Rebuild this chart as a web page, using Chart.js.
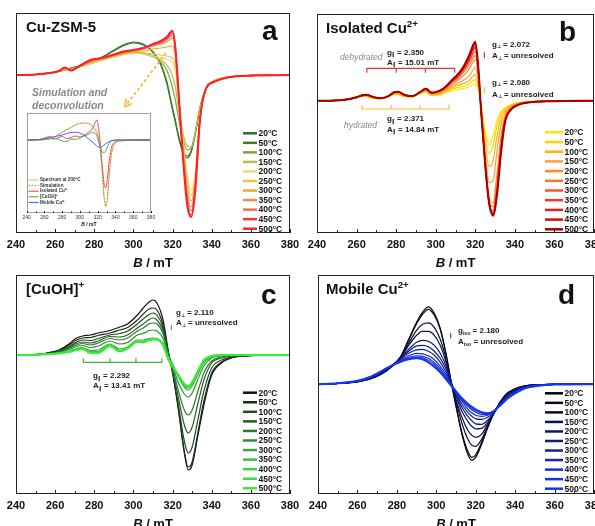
<!DOCTYPE html>
<html>
<head>
<meta charset="utf-8">
<script src="https://cdn.jsdelivr.net/npm/chart.js@4.4.0/dist/chart.umd.min.js"></script>
<style>
  body { margin: 0; width: 595px; height: 526px; overflow: hidden; background: #fff; position: relative; }
  canvas { position: absolute; }
</style>
</head>
<body>
<canvas id="pa"></canvas>
<canvas id="pb"></canvas>
<canvas id="pc"></canvas>
<canvas id="pd"></canvas>
<canvas id="inset"></canvas>
<script>
// ---- data ----
const temps = ['20°C', '50°C', '100°C', '150°C', '200°C', '250°C', '300°C', '350°C', '400°C', '450°C', '500°C'];
const bTicks = [240, 260, 280, 300, 320, 340, 360, 380];

// a: Cu-ZSM-5
const fieldA = [240, 250, 257, 262, 265, 268, 272, 278, 284, 290, 296, 300, 305, 310, 314, 317, 319, 320, 321.5, 323, 325, 327.5, 329.5, 331.5, 334, 337, 341, 347, 355, 380];
const specA = [
  [0, 0.5, 2, 4, 5, 7, 9, 13, 18, 25, 31, 33, 31, 23, 10, -8, -26, -35, -48, -62, -76, -83, -77, -60, -33, -14, -6, -2.5, -1, 0],
  [0, 0.5, 2, 4, 5, 6.5, 8.5, 12.5, 17.5, 24, 30, 32, 30, 23, 11, -6, -24, -33, -46, -60, -74, -81, -76, -59, -33, -14, -6, -2.5, -1, 0],
  [0, 0.5, 2, 4, 5, 6, 8, 12, 16, 19, 22, 23, 22, 19, 13, 5, -6, -13, -26, -43, -62, -75, -73, -59, -33, -14, -6, -2.5, -1, 0],
  [0, 0.5, 2, 4, 5, 6, 8, 11, 15, 18, 21, 22, 21, 18, 15, 10, 4, -1, -13, -33, -56, -71, -72, -58, -32, -14, -6, -2.5, -1, 0],
  [0, 0.5, 2, 4, 5.5, 5.5, 7.5, 11, 15, 18, 21, 22, 21, 19, 17, 16, 14, 12, 4, -22, -58, -100, -115, -99, -40, -15, -6, -2.5, -1, 0],
  [0, 0.5, 2, 4, 6, 5.5, 8, 12, 15.5, 18.5, 21, 22, 22, 21, 20, 19, 18, 17, 8, -22, -62, -106, -120, -102, -41, -15, -6.5, -2.5, -1, 0],
  [0, 0.5, 2, 4, 6.5, 5, 8, 13, 16, 19, 22, 23, 24, 26, 27, 28, 29, 29, 17, -20, -66, -112, -126, -106, -42, -14, -7, -3, -1, 0],
  [0, 0.5, 2, 4, 7, 5, 8, 13.5, 17, 19.5, 22.5, 24, 26, 29, 31, 33, 36, 37, 22, -18, -70, -118, -132, -110, -43, -14, -7, -3, -1, 0],
  [0, 0.5, 2, 4, 7, 5, 8, 14, 17, 20, 23, 24.5, 26.5, 30, 32, 35, 39, 40, 24, -17, -72, -122, -136, -113, -44, -14, -7, -3, -1, 0],
  [0, 0.5, 2, 4, 7, 4.5, 8.5, 14.5, 17, 20, 23.5, 25, 27, 30.5, 33, 36.5, 41, 42, 25, -16, -74, -127, -140, -116, -45, -14, -7, -3, -1, 0],
  [0, 0.5, 2, 4, 7.5, 4.5, 8.5, 15, 17, 20.5, 24, 25, 27, 31, 34, 38, 43, 44, 26, -15, -75, -130, -142, -118, -45, -14, -7, -3, -1, 0]
];

// a inset: simulation and deconvolution of the 200°C spectrum
const fieldI = [240, 255, 262, 266, 270, 275, 280, 285, 290, 295, 300, 305, 310, 314, 317, 319, 321, 323, 325, 327, 329, 331, 333, 336, 340, 345, 380];
const inSpectrum = [0, 0.5, 2.5, 3.5, 3, 5, 8, 10, 12.5, 15, 16.5, 17, 16.5, 14, 11, 8, 2, -10, -30, -55, -67, -58, -35, -12, -3, -1, 0];
const inSimulation = [0, 0.4, 2.2, 3.3, 3.2, 5.2, 7.8, 10.2, 12.8, 15.2, 16.8, 17, 16.2, 13.5, 10.5, 7.5, 1.5, -11, -31, -56, -66, -56, -33, -11, -3, -0.8, 0];
const inIsolated = [0, 0.5, 2.5, 3, 1, 2, 3.5, 1.5, 2.5, 4, 3, 5, 8, 11, 17, 20, 12, -5, -25, -43, -48, -38, -20, -6, -2, -0.5, 0];
const inCuOH = [0, 0, 0.5, 1, 1.5, 1, -1, -1.5, 1, 0.5, 2, 4, 6, 7.5, 7, 4, -2, -8, -12, -13, -11, -7, -3, -0.5, 0, 0, 0];
const inMobile = [0, 0.5, 1.5, 2, 3, 4, 5, 6.5, 7.5, 7.7, 7, 4.5, 1, -2, -4.5, -6, -7.3, -7.5, -6.5, -5, -3.5, -2.5, -1.5, -0.7, -0.2, 0, 0];
const inLabels = ['Spectrum at 200°C', 'Simulation', 'Isolated Cu²⁺', '[CuOH]⁺', 'Mobile Cu²⁺'];

// b: isolated Cu2+
const fieldB = [240, 250, 256, 260, 263, 265, 268, 272, 276, 279, 281, 284, 288, 292, 295, 298, 302, 305, 308, 311, 314, 317, 319, 320, 321.5, 323, 325, 327, 329, 331, 333, 335, 338, 342, 348, 360, 380];
const specB = [
  [0, 0.3, 1.5, 3, 4.5, 4, 2.5, 2, 4, 6, 6, 4, 4, 7, 8.5, 5, 6, 8, 10, 11, 12, 14, 16, 16.5, 11, -5, -30, -44, -35, -19, -11, -7, -4, -2, -1, -0.3, 0],
  [0, 0.3, 1.5, 3, 4.5, 4.5, 2.5, 2, 4, 6.5, 6.5, 4.5, 4, 7.5, 9, 5.5, 6.5, 9, 11.5, 13, 14.5, 17, 20, 21, 13, -6, -36, -53, -45, -25, -13, -8, -4.5, -2, -1, -0.3, 0],
  [0, 0.3, 1.5, 3, 5, 4.5, 3, 2, 4, 7, 7, 4.5, 4, 7.5, 9.5, 6, 7, 10, 13, 15, 17, 20, 25, 26, 16, -7, -43, -66, -60, -35, -17, -10, -5, -2.5, -1, -0.3, 0],
  [0, 0.3, 1.5, 3, 5, 5, 3, 2, 4, 7.5, 7.5, 5, 4, 8, 10, 6.5, 7.5, 11, 14.5, 17, 20.5, 25, 31, 33, 21, -8, -50, -82, -80, -50, -24, -12, -6, -3, -1, -0.3, 0],
  [0, 0.3, 1.5, 3.5, 5, 5.5, 3.5, 2.5, 4, 8, 8, 5.5, 4.5, 8, 11, 7, 8.5, 12, 16, 20, 25, 32, 39, 41, 25, -10, -58, -97, -102, -72, -36, -16, -7, -3, -1, -0.3, 0],
  [0, 0.3, 1.5, 3.5, 5.5, 5.5, 3.5, 2.5, 4.5, 8, 8.5, 5.5, 4.5, 8, 11, 7.5, 9, 12.5, 17.5, 22, 28, 36, 43, 45, 28, -11, -60, -100, -106, -80, -40, -17, -8, -3.5, -1.5, -0.4, 0],
  [0, 0.3, 1.5, 3.5, 5.5, 6, 4, 2.5, 4.5, 8.5, 8.5, 6, 4.5, 8.5, 11.5, 7.5, 9.5, 13, 18.5, 23, 30, 39, 47, 49, 30, -12, -62, -102, -110, -86, -45, -19, -8, -3.5, -1.5, -0.4, 0],
  [0, 0.3, 1.5, 3.5, 5.5, 6, 4, 2.5, 4.5, 8.5, 9, 6, 4.5, 8.5, 12, 8, 9.5, 13.5, 19, 24, 31, 41, 50, 52, 31, -12, -63, -102, -112, -90, -48, -20, -8.5, -4, -1.5, -0.5, 0],
  [0, 0.3, 1.5, 3.5, 5.5, 6, 4, 2.5, 4.5, 8.5, 9, 6, 4.5, 8.5, 12, 8, 10, 13.5, 19.5, 25, 32, 43, 52, 54, 32, -12, -64, -103, -113, -92, -50, -21, -9, -4, -1.5, -0.5, 0],
  [0, 0.3, 1.5, 3.5, 5.5, 6, 4, 2.5, 4.5, 8.5, 9, 6, 4.5, 8.5, 12, 8, 10, 14, 20, 25.5, 33, 44.5, 54, 57, 33, -12, -64, -103, -114, -93, -51, -21, -9, -4, -1.5, -0.5, 0],
  [0, 0.3, 1.5, 3.5, 5.5, 6, 4, 2.5, 4.5, 8.5, 9, 6, 4.5, 8.5, 12, 8, 10, 14, 20, 26, 34, 46, 56, 59, 34, -12, -64, -103, -115, -94, -52, -22, -9, -4, -1.5, -0.5, 0]
];
// hyperfine stick positions (mT) and their levels
const dehydLines = [265.2, 280, 294.8, 309.6];
const hydLines = [262.7, 277.5, 292.1, 306.8];
const perpDehyd = [324.6, 42.4, 49];
const perpHyd = [324.6, 7.4, 13.4];

// c: [CuOH]+
const fieldC = [240, 250, 256, 262, 267, 271, 274, 278, 282, 288, 293, 297, 302, 305, 308, 310, 312, 315, 318, 320, 323, 326, 328, 330, 333, 336, 340, 345, 352, 362, 380];
const specC = [
  [0, 0.5, 2, 5, 11, 17, 19, 20, 22, 24.5, 28, 31, 40, 47, 53, 55, 52, 36, 2, -18, -55, -98, -115, -110, -80, -50, -20, -8, -2, -0.5, 0],
  [0, 0.5, 2, 4.5, 10, 15, 17, 17.5, 19.5, 22, 25, 27.5, 35, 41, 46, 47, 45, 31, 1, -17, -54, -96, -112, -107, -77, -46, -18, -7, -2, -0.5, 0],
  [0, 0.4, 1.5, 4, 8.5, 13, 15, 14.5, 16.5, 20, 21.5, 24, 31, 36, 40.5, 42, 40, 28, 0, -16, -50, -86, -98, -92, -64, -36, -13, -5, -1.5, -0.3, 0],
  [0, 0.4, 1.5, 3.5, 7.5, 11.5, 13, 12, 14, 18.5, 18, 20, 27, 31, 35.5, 37, 35, 25, 0, -15, -43, -70, -78, -72, -48, -25, -8, -3, -1, -0.3, 0],
  [0, 0.3, 1.2, 3, 6.5, 10, 11.5, 10, 12, 16.5, 15, 17, 24, 27, 31, 32, 31, 22, 0, -13, -36, -55, -60, -55, -36, -18, -6, -2, -0.5, 0, 0],
  [0, 0.3, 1, 2.5, 5.5, 8.5, 9.5, 7.5, 9, 14, 11, 12.5, 20, 21.5, 24.5, 25, 24, 17, -1, -11, -28, -39, -42, -38, -24, -11, -3, -1, 0, 0, 0],
  [0, 0.3, 1, 2, 4, 6.5, 7.5, 4.5, 5, 11, 6, 8, 15, 15, 16.5, 17, 16.5, 12, -2, -9, -22, -32, -35, -31, -19, -8, -2, -0.5, 0, 0, 0],
  [0, 0.3, 1, 2, 3.5, 6, 6.5, 3.5, 3.5, 10, 4.5, 7, 14, 13.5, 15, 15.5, 16, 11.5, -3, -10, -21, -30, -33, -29, -17, -7, -1.5, -0.3, 0, 0, 0],
  [0, 0.3, 1, 1.8, 3, 5.5, 6, 3, 3, 9.5, 4, 6.5, 13.5, 12.5, 15, 15.5, 16, 11, -4, -11, -21, -29, -32, -28, -16, -6, -1.5, -0.3, 0, 0, 0],
  [0, 0.2, 0.8, 1.6, 3, 5, 6, 2.5, 2.5, 9, 3.5, 6.5, 13.5, 12.5, 15, 15.5, 15.5, 10.5, -4.5, -11.5, -20, -29, -31.5, -27.5, -16, -5.5, -1, 0, 0, 0, 0],
  [0, 0.2, 0.8, 1.5, 3, 5, 6, 2, 2, 9, 3.5, 6.5, 13.3, 12.4, 15, 15.5, 15.5, 10, -5, -12, -20, -29, -31, -27, -16, -5, -1, 0, 0, 0, 0]
];
const cuohLines = [274.4, 288, 301.3, 314.6];
const perpCuOH = [319.4, 25, 30];

// d: mobile Cu2+
const fieldD = [240, 250, 260, 266, 272, 277, 282, 286, 290, 293, 296, 299, 302, 305, 307, 310, 313, 316, 318, 320, 323, 326, 329, 332, 336, 340, 345, 350, 360, 380];
const specD = [
  [0, 0.8, 2.5, 5, 10, 17, 28, 45, 62, 72, 77.5, 71, 56, 30, 8, -22, -50, -70, -76, -73, -60, -44, -30, -19, -9, -4.5, -1.5, -0.5, 0, 0],
  [0, 0.8, 2.5, 5, 10, 17, 27.5, 44, 60.5, 70, 75, 69, 55, 29.5, 8, -21, -48, -67, -73, -70.5, -58, -43, -29.5, -19, -9, -4.5, -1.5, -0.5, 0, 0],
  [0, 0.8, 2.6, 5.2, 10.5, 17.5, 27, 41, 54, 60, 61.5, 57, 45, 25, 7, -17, -39, -55, -61, -62, -55, -42, -30, -19.5, -9.5, -5, -1.7, -0.5, 0, 0],
  [0, 0.9, 2.7, 5.5, 11, 18, 27, 39, 49, 53, 53, 49, 39, 22, 6, -15, -33, -46, -51, -53, -50, -40, -29.5, -20, -10, -5.5, -2, -0.6, 0, 0],
  [0, 0.9, 2.8, 5.8, 11.5, 18, 26.5, 35, 42, 44, 43, 39, 31, 18, 5, -12, -27, -37, -42, -44.5, -44, -38, -29.5, -20.5, -11, -6, -2.3, -0.7, 0, 0],
  [0, 0.9, 3, 6, 12, 18, 25.5, 33, 38.5, 39, 37.5, 33, 26, 15, 4, -10, -23, -32, -36.5, -39.5, -40, -36, -29, -21, -11.5, -6.5, -2.5, -0.8, 0, 0],
  [0, 1, 3, 6.2, 12, 18, 24.5, 31, 34.5, 35, 33, 29, 22, 12, 3, -9, -20, -28, -32, -34.5, -35, -33, -28, -21, -12.5, -7, -2.8, -1, 0, 0],
  [0, 1, 3.2, 6.5, 12.5, 18, 23.5, 28.5, 31, 30.5, 28.5, 24.5, 18, 9.5, 2, -8, -17, -25, -28.5, -31, -32, -31, -27.5, -21.5, -13, -7.5, -3, -1.2, 0, 0],
  [0, 1, 3.3, 6.7, 12.7, 18, 23, 27, 28.5, 28, 26, 21.5, 15.5, 7.5, 1, -7.5, -15.5, -22, -25.5, -28, -30, -30, -27, -21.5, -13.5, -8, -3.3, -1.4, -0.1, 0],
  [0, 1, 3.4, 6.9, 12.9, 18.2, 22.7, 26, 27, 26.5, 24, 19.5, 13.5, 6, 0.5, -7, -14.5, -20.5, -24, -26.5, -28.5, -29, -27, -21.8, -14, -8.5, -3.6, -1.6, -0.2, 0],
  [0, 1, 3.5, 7, 13, 18.5, 22.5, 25, 26, 25, 22, 17.5, 12, 5, 0, -7, -14, -19.5, -22.5, -25, -28, -29, -27, -22, -14.5, -9, -4, -2, -0.3, 0]
];
const isoMobile = [307.3, 46, 51];

// ---- styles ----
const FONT = 'Arial, "Liberation Sans", sans-serif';
const colA = ['#2f6b37', '#457a2c', '#83a235', '#bcbc48', '#efd873', '#efc23c', '#f5a82a', '#f28e48', '#f26c52', '#f03a3a', '#ff1f2f'];
const colB = ['#ffe600', '#ffd200', '#ffb400', '#ffa040', '#ff8a30', '#ff7428', '#ff5526', '#f53822', '#e41c1c', '#cc0e0e', '#a80000'];
const colC = ['#111111', '#1c2c1c', '#204a22', '#245e26', '#2a7a2c', '#2f8f31', '#36a838', '#3bbf3d', '#3fd042', '#3ce03c', '#33f030'];
const colD = ['#000000', '#0a0a1c', '#0c0c38', '#0e1050', '#101668', '#121c80', '#14229a', '#1628b4', '#1830cc', '#1634e4', '#1234ff'];

function rich(ctx, x, y, parts, size, style) {
  let cx = x;
  for (const [t, k] of parts) {
    const s = k ? size * 0.65 : size;
    const dy = k === 'sup' ? -size * 0.42 : k === 'sub' ? size * 0.22 : 0;
    ctx.font = `${style} ${s}px ${FONT}`;
    ctx.fillText(t, cx, y + dy);
    cx += ctx.measureText(t).width;
  }
}

function legend(ctx, chart, x, y, dy, len) {
  ctx.font = `bold 8.5px ${FONT}`;
  ctx.textBaseline = 'middle';
  temps.forEach((t, i) => {
    const yy = y + i * dy;
    ctx.strokeStyle = chart.data.datasets[i].borderColor;
    ctx.lineWidth = 2.5;
    ctx.beginPath(); ctx.moveTo(x, yy); ctx.lineTo(x + len, yy); ctx.stroke();
    ctx.fillStyle = '#111';
    ctx.fillText(t, x + len + 1.5, yy + 0.5);
  });
  ctx.textBaseline = 'alphabetic';
}

// comb of hyperfine sticks: horizontal bar at `bar`, ticks reaching to `tip`
function comb(lines, bar, tip) {
  const pts = [[lines[0], tip], [lines[0], bar]];
  for (let i = 1; i < lines.length; i++) {
    pts.push([lines[i], bar], [lines[i], tip], [lines[i], bar]);
  }
  return pts;
}

const axisDeco = {
  id: 'axisDeco',
  afterDatasetsDraw(c, args, o) {
    const { ctx, chartArea: a } = c;
    const x = c.scales.x;
    ctx.save();
    ctx.strokeStyle = o.color;
    ctx.lineWidth = 1;
    ctx.strokeRect(Math.round(a.left) + 0.5, Math.round(a.top) + 0.5,
      Math.round(a.right - a.left) - 1, Math.round(a.bottom - a.top) - 1);
    ctx.strokeStyle = '#222';
    ctx.beginPath();
    for (let v = 240; v <= 380; v += 10) {
      const px = Math.round(x.getPixelForValue(v)) + 0.5;
      ctx.moveTo(px, a.bottom);
      ctx.lineTo(px, a.bottom - (v % 20 ? o.minor : o.major));
    }
    ctx.stroke();
    // axis title: italic B / mT
    ctx.fillStyle = '#111';
    ctx.font = `italic bold ${o.size}px ${FONT}`;
    const w1 = ctx.measureText('B').width;
    ctx.font = `bold ${o.size}px ${FONT}`;
    const w2 = ctx.measureText(' / mT').width;
    const x0 = (a.left + a.right) / 2 - (w1 + w2) / 2;
    const y0 = a.bottom + o.dy;
    ctx.font = `italic bold ${o.size}px ${FONT}`;
    ctx.fillText('B', x0, y0);
    ctx.font = `bold ${o.size}px ${FONT}`;
    ctx.fillText(' / mT', x0 + w1, y0);
    ctx.restore();
  }
};

function makePanel(id, box, field, spec, cols, yr, sticks, decor) {
  const cv = document.getElementById(id);
  cv.width = box.w; cv.height = box.h;
  cv.style.left = box.x + 'px'; cv.style.top = box.y + 'px';
  const sets = spec.map((row, i) => ({
    label: temps[i],
    data: field.map((b, j) => ({ x: b, y: row[j] })),
    borderColor: cols[i],
    borderWidth: i === 10 ? 2 : 1.2,
    pointRadius: 0,
    cubicInterpolationMode: 'monotone',
    order: 20 - i
  }));
  sticks.forEach(s => sets.push({
    data: s.pts.map(p => ({ x: p[0], y: p[1] })),
    borderColor: s.color, borderWidth: 1.2, pointRadius: 0, tension: 0, order: 0
  }));
  return new Chart(cv, {
    type: 'line',
    data: { datasets: sets },
    options: {
      responsive: false, animation: false, devicePixelRatio: 1,
      layout: { padding: { left: box.l - box.x, top: box.t - box.y, right: box.x + box.w - box.r, bottom: 0 } },
      plugins: {
        legend: { display: false }, tooltip: { enabled: false },
        axisDeco: { color: '#222', minor: 3, major: 4, size: 13, dy: 33.5 }
      },
      scales: {
        x: {
          type: 'linear', min: 240, max: 380,
          afterBuildTicks: s => { s.ticks = bTicks.map(v => ({ value: v })); },
          afterFit: s => { s.height = box.y + box.h - box.b; s.paddingLeft = 0; s.paddingRight = 0; },
          ticks: { color: '#111', font: { family: FONT, size: 11, weight: 'bold' }, padding: 5, maxRotation: 0, autoSkip: false },
          grid: { display: false, drawTicks: false },
          border: { display: false }
        },
        y: { display: false, min: yr[0], max: yr[1] }
      }
    },
    plugins: [axisDeco, {
      id: 'decor',
      afterDraw(c) {
        const ctx = c.ctx;
        ctx.save();
        ctx.translate(-box.x, -box.y);
        ctx.textAlign = 'left';
        decor(ctx, c);
        ctx.restore();
      }
    }]
  });
}

// ---- panel a ----
makePanel('pa', { x: 0, y: 0, w: 300, h: 270, l: 16, t: 13, r: 290, b: 233 },
  fieldA, specA, colA, [-158, 62], [], (ctx, c) => {
    ctx.fillStyle = '#111';
    rich(ctx, 26, 31.5, [['Cu-ZSM-5', '']], 15, 'bold');
    ctx.font = `bold 28px ${FONT}`;
    ctx.fillText('a', 262, 40);
    ctx.fillStyle = '#8a8a8a';
    ctx.font = `italic bold 10.5px ${FONT}`;
    ctx.fillText('Simulation and', 32, 96);
    ctx.fillText('deconvolution', 32, 108.5);
    // dashed arrow
    ctx.strokeStyle = '#efc22a';
    ctx.lineWidth = 1.8;
    ctx.setLineDash([3, 2.5]);
    ctx.beginPath(); ctx.moveTo(166, 53); ctx.lineTo(127, 104); ctx.stroke();
    ctx.setLineDash([]);
    ctx.beginPath(); ctx.moveTo(125, 107); ctx.lineTo(126, 99); ctx.moveTo(125, 107); ctx.lineTo(132, 103.5); ctx.stroke();
    legend(ctx, c, 243, 133.3, 9.54, 14);
  });

// ---- panel b ----
makePanel('pb', { x: 300, y: 0, w: 310, h: 270, l: 317, t: 14, r: 594, b: 233 },
  fieldB, specB, colB, [-132.3, 86.7], [
    { pts: comb(dehydLines, 32.4, 28), color: '#d63a3a' },
    { pts: comb(hydLines, -8.3, -4.3), color: '#f2c233' },
    { pts: [[perpDehyd[0], perpDehyd[1]], [perpDehyd[0], perpDehyd[2]]], color: '#d63a3a' },
    { pts: [[perpHyd[0], perpHyd[1]], [perpHyd[0], perpHyd[2]]], color: '#f2c233' }
  ], (ctx, c) => {
    ctx.fillStyle = '#111';
    rich(ctx, 326, 33, [['Isolated Cu', ''], ['2+', 'sup']], 15, 'bold');
    ctx.font = `bold 28px ${FONT}`;
    ctx.fillText('b', 559, 40.5);
    ctx.fillStyle = '#8a8a8a';
    ctx.font = `italic 8.5px ${FONT}`;
    ctx.fillText('dehydrated', 340, 60);
    ctx.fillText('hydrated', 344, 127.5);
    ctx.fillStyle = '#222';
    rich(ctx, 387, 54.5, [['g', ''], ['∥', 'sub'], [' = 2.350', '']], 8, 'bold');
    rich(ctx, 387, 64.5, [['A', ''], ['∥', 'sub'], [' = 15.01 mT', '']], 8, 'bold');
    rich(ctx, 492, 46.5, [['g', ''], ['⊥', 'sub'], [' = 2.072', '']], 8, 'bold');
    rich(ctx, 492, 58, [['A', ''], ['⊥', 'sub'], [' = unresolved', '']], 8, 'bold');
    rich(ctx, 492, 84.5, [['g', ''], ['⊥', 'sub'], [' = 2.080', '']], 8, 'bold');
    rich(ctx, 492, 96.5, [['A', ''], ['⊥', 'sub'], [' = unresolved', '']], 8, 'bold');
    rich(ctx, 387, 121, [['g', ''], ['∥', 'sub'], [' = 2.371', '']], 8, 'bold');
    rich(ctx, 387, 131.5, [['A', ''], ['∥', 'sub'], [' = 14.84 mT', '']], 8, 'bold');
    legend(ctx, c, 545, 132.3, 9.7, 18);
  });

// ---- panel c ----
makePanel('pc', { x: 0, y: 262, w: 300, h: 270, l: 16, t: 275, r: 290, b: 494 },
  fieldC, specC, colC, [-139, 80], [
    { pts: comb(cuohLines, -7.3, -3.3), color: '#45b045' },
    { pts: [[perpCuOH[0], perpCuOH[1]], [perpCuOH[0], perpCuOH[2]]], color: '#45b045' }
  ], (ctx, c) => {
    ctx.fillStyle = '#111';
    rich(ctx, 26, 294, [['[CuOH]', ''], ['+', 'sup']], 15, 'bold');
    ctx.font = `bold 28px ${FONT}`;
    ctx.fillText('c', 261, 304);
    ctx.fillStyle = '#222';
    rich(ctx, 176, 315, [['g', ''], ['⊥', 'sub'], [' = 2.110', '']], 8, 'bold');
    rich(ctx, 176, 325, [['A', ''], ['⊥', 'sub'], [' = unresolved', '']], 8, 'bold');
    rich(ctx, 93, 378, [['g', ''], ['∥', 'sub'], [' = 2.292', '']], 8, 'bold');
    rich(ctx, 93, 388, [['A', ''], ['∥', 'sub'], [' = 13.41 mT', '']], 8, 'bold');
    legend(ctx, c, 243, 392.7, 9.56, 14);
  });

// ---- panel d ----
makePanel('pd', { x: 300, y: 262, w: 310, h: 270, l: 318, t: 275, r: 594, b: 494 },
  fieldD, specD, colD, [-109.7, 109.3], [
    { pts: [[isoMobile[0], isoMobile[1]], [isoMobile[0], isoMobile[2]]], color: '#3a3aff' }
  ], (ctx, c) => {
    ctx.fillStyle = '#111';
    rich(ctx, 326, 294, [['Mobile Cu', ''], ['2+', 'sup']], 15, 'bold');
    ctx.font = `bold 28px ${FONT}`;
    ctx.fillText('d', 558, 304);
    ctx.fillStyle = '#222';
    rich(ctx, 458, 333, [['g', ''], ['iso', 'sub'], [' = 2.180', '']], 8, 'bold');
    rich(ctx, 458, 344, [['A', ''], ['iso', 'sub'], [' = unresolved', '']], 8, 'bold');
    legend(ctx, c, 545, 393.3, 9.54, 18);
  });

// ---- inset of panel a ----
(function () {
  const cv = document.getElementById('inset');
  const box = { x: 18, y: 108, w: 140, h: 122, l: 26.7, t: 113, r: 151, b: 213 };
  cv.width = box.w; cv.height = box.h;
  cv.style.left = box.x + 'px'; cv.style.top = box.y + 'px';
  const series = [inSpectrum, inSimulation, inIsolated, inCuOH, inMobile];
  const cols = ['#e8c22e', '#8a8a8a', '#ff3434', '#3ea63e', '#3a4cff'];
  const sets = series.map((row, i) => ({
    label: inLabels[i],
    data: fieldI.map((b, j) => ({ x: b, y: row[j] })),
    borderColor: cols[i],
    borderWidth: i === 1 ? 1 : 0.9,
    borderDash: i === 1 ? [1.5, 1.5] : [],
    pointRadius: 0,
    cubicInterpolationMode: 'monotone',
    order: i === 1 ? 0 : 10 - i
  }));
  new Chart(cv, {
    type: 'line',
    data: { datasets: sets },
    options: {
      responsive: false, animation: false, devicePixelRatio: 1,
      layout: { padding: { left: box.l - box.x, top: box.t - box.y, right: box.x + box.w - box.r, bottom: 0 } },
      plugins: {
        legend: { display: false }, tooltip: { enabled: false },
        axisDeco: { color: '#a0a0a0', minor: 1.5, major: 2, size: 5, dy: 12.5 }
      },
      scales: {
        x: {
          type: 'linear', min: 240, max: 380,
          afterBuildTicks: s => { s.ticks = bTicks.map(v => ({ value: v })); },
          afterFit: s => { s.height = box.y + box.h - box.b; s.paddingLeft = 0; s.paddingRight = 0; },
          ticks: { color: '#333', font: { family: FONT, size: 5 }, padding: 2, maxRotation: 0, autoSkip: false },
          grid: { display: false, drawTicks: false },
          border: { display: false }
        },
        y: { display: false, min: -73, max: 27 }
      }
    },
    plugins: [axisDeco, {
      id: 'insetLegend',
      afterDraw(c) {
        const ctx = c.ctx;
        ctx.save();
        ctx.translate(-box.x, -box.y);
        ctx.font = `bold 4.6px ${FONT}`;
        ctx.textBaseline = 'middle';
        inLabels.forEach((t, i) => {
          const yy = 180 + i * 5.6;
          ctx.strokeStyle = cols[i];
          ctx.lineWidth = 1;
          ctx.setLineDash(i === 1 ? [1.5, 1.5] : []);
          ctx.beginPath(); ctx.moveTo(28.5, yy); ctx.lineTo(38.5, yy); ctx.stroke();
          ctx.fillStyle = '#333';
          ctx.fillText(t, 40, yy);
        });
        ctx.restore();
      }
    }]
  });
})();
</script>
</body>
</html>
